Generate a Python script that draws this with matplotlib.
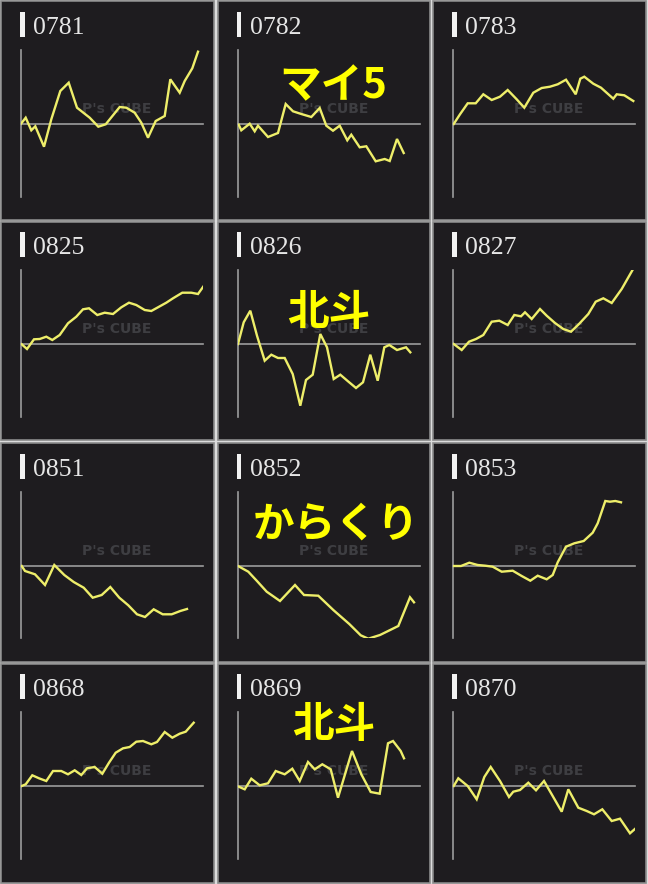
import matplotlib
matplotlib.use("Agg")
import matplotlib.pyplot as plt
from matplotlib.patches import Rectangle

# ---------------- data (x: position along period, y: cumulative diff; 0 = baseline) -------------
codes = ["0781", "0782", "0783", "0825", "0826", "0827",
         "0851", "0852", "0853", "0868", "0869", "0870"]

x_0781 = [0, 4.7, 10.3, 14.3, 23, 30.3, 39.3, 47.7, 56, 68.7, 77.3, 84.7, 98.7, 105.3, 113.7, 120.3, 127, 134.7, 143.7, 149.3, 158.7, 163.7, 171.3, 177]
y_0781 = [0.3, 6.3, -6.3, -2.3, -22.7, 4.7, 33, 41.3, 16.3, 6.3, -2.7, -0.3, 17, 16.3, 11.3, 1.3, -13.7, 3, 8, 44.7, 31.3, 43, 55.7, 72.3]

x_0782 = [0.7, 3.3, 11.7, 16.7, 20, 30, 40, 47.7, 55, 63.3, 73.3, 81.7, 88.3, 95, 101.7, 109.3, 113.3, 121.7, 128.3, 137.7, 146.7, 151.7, 159, 165.7]
y_0782 = [-0.7, -6.3, 0.3, -7.3, -1.7, -13, -9, 20, 12.7, 10, 7, 16, -1.7, -6.7, -1.7, -16.3, -10.7, -23.3, -22.3, -37.3, -35, -37, -15, -29]

x_0783 = [0.7, 7, 14.7, 22.7, 30.3, 38.7, 47, 54.7, 63.7, 71.3, 80.3, 88.7, 97, 104.7, 113, 122.7, 127.3, 131.3, 140.3, 148, 160.3, 163.7, 171.3, 180.3]
y_0783 = [0, 9.7, 20.7, 20.7, 29.7, 24, 27.3, 34, 24.7, 16.3, 31.3, 36, 37.3, 39.7, 44.3, 29.7, 45.3, 47.3, 40.3, 36.3, 25.3, 29.7, 28.7, 23]

x_0825 = [0.7, 6, 13, 18.7, 25.3, 31.3, 38.7, 47, 55.3, 62, 68, 76.3, 83.7, 92, 100.3, 108, 115.3, 123.7, 130.3, 137, 145.3, 152, 161.3, 170.3, 177, 182.7]
y_0825 = [-0.3, -5, 4.7, 5, 7.3, 4, 9, 20.7, 27.3, 34.7, 35.7, 29, 31.3, 30, 36.7, 41.3, 39, 34, 33, 36.7, 41.3, 45.7, 51.3, 51.3, 50, 58]

x_0826 = [0, 5.7, 12.3, 19, 26.7, 33.3, 40, 46.7, 54.7, 62.3, 68, 74.7, 82.3, 89, 95.7, 102.3, 110, 118, 125, 132.3, 139.7, 146.3, 151.3, 159, 168, 172.3]
y_0826 = [0, 21.7, 33.3, 8.3, -16.7, -10.7, -14, -14, -30, -61.7, -36, -30.7, 10, -3.3, -35, -30.7, -37.3, -44, -38.3, -10.7, -36.7, -3.3, -1, -6, -3.3, -8.3]

x_0827 = [0.7, 8.7, 16, 23, 30.3, 38.7, 46.3, 54.7, 61.3, 68, 72, 78.7, 87, 93.7, 102, 110.3, 118, 126, 135.3, 142.7, 150.3, 158.7, 168.7, 179.7]
y_0827 = [0, -6, 2.3, 5, 9, 22.3, 23.3, 19, 29, 27.7, 31.7, 25, 35, 28.3, 21, 15, 12.3, 20, 30, 42.3, 45.7, 41, 55, 74.3]

x_0851 = [0.7, 4, 14, 24, 33.3, 43.3, 52.7, 62.7, 71.7, 80.7, 89.3, 98.3, 107.3, 116, 124, 132.7, 141.7, 150.7, 159.3, 166]
y_0851 = [0, -5, -8.3, -19, 1, -9, -16, -21.7, -31.7, -29, -21, -31.7, -39.3, -48.3, -51, -43.3, -48.3, -48.3, -45, -43]

x_0852 = [0, 10.3, 18.7, 28.7, 42, 57, 66, 80.3, 95.3, 111.3, 122.7, 130.3, 142, 160.3, 172, 176]
y_0852 = [0, -5.7, -14.7, -25.7, -35, -19, -29, -29.7, -44, -58, -69.3, -72.7, -69, -60, -31.3, -36.3]

x_0853 = [0, 8, 16.3, 24.7, 32.3, 39.7, 48.7, 59.7, 68.7, 77.3, 84.7, 93.7, 99.7, 104.7, 113, 121.3, 130.7, 139.7, 144.7, 152.3, 157, 162.3, 168]
y_0853 = [0, 0, 3.3, 1, 0.3, -0.7, -5.7, -4.7, -10, -14.7, -9.7, -13.3, -9, 3.7, 19.3, 22.7, 25, 33.3, 42.7, 65, 64.3, 65, 63.7]

x_0868 = [0.7, 4.7, 11.3, 18, 25.3, 32, 40.3, 47, 53.7, 60.3, 66, 73.7, 81.3, 88, 94.7, 102, 108.7, 115.3, 122, 130.3, 136, 143.7, 151.3, 158.7, 164.7, 172.7]
y_0868 = [0, 1.7, 10.7, 7.7, 5, 15, 15, 11.7, 15.7, 11, 17.7, 19, 12.3, 23.3, 33.3, 37.7, 39, 44.3, 45, 41.7, 44, 54, 48.3, 52.3, 54.3, 63.3]

x_0869 = [0.7, 6.7, 13.3, 21.7, 30, 37.7, 46.7, 54.3, 61.7, 70, 76.7, 84.3, 92.7, 100, 114, 123.3, 132.7, 141.7, 150, 155, 162.7, 166]
y_0869 = [-0.7, -3.3, 7.3, 0.7, 2.7, 15, 11.7, 17.3, 5, 24, 16.7, 21.7, 16.7, -11.7, 35, 11.7, -6, -7.7, 42.7, 45, 35, 27.7]

x_0870 = [0.7, 5.3, 14.7, 23.7, 31.3, 37.7, 47, 56, 60.3, 67, 75.3, 83, 91, 98.7, 108.7, 115.3, 125.3, 133.7, 141, 149.3, 158.7, 167, 177, 182.7]
y_0870 = [0, 7.7, 0, -13.3, 9, 19, 5, -11, -5.7, -4, 3.3, -4.3, 5, -8.3, -25.7, -3.3, -21.7, -25, -28.3, -23.3, -35, -32.7, -47.3, -42.3]

xs = [x_0781, x_0782, x_0783, x_0825, x_0826, x_0827,
      x_0851, x_0852, x_0853, x_0868, x_0869, x_0870]
ys = [y_0781, y_0782, y_0783, y_0825, y_0826, y_0827,
      y_0851, y_0852, y_0853, y_0868, y_0869, y_0870]

overlay_labels = {"0782": "マイ5", "0826": "北斗", "0852": "からくり", "0869": "北斗"}
overlay_pos = {"0782": (333, 86), "0826": (329, 313), "0852": (336, 525), "0869": (334, 725)}

# ---------------- layout (pixels) ----------------
W, H = 648, 884
fig = plt.figure(figsize=(W / 100, H / 100), dpi=100)
fig.patch.set_facecolor("#dcdcdc")

def fx(px):
    return px / W

def fy(py):
    return 1 - py / H

panel_x = [(1, 214), (218, 430), (433, 646)]
panel_y = [(1, 220), (222, 440), (443, 662), (664, 883)]
axis_left = [21, 238, 453]
axis_top = [50, 270, 492, 712]
axis_base = [124, 344, 566, 786]
axis_bot = [197, 417, 638, 859]
AX_W = 182

BG = "#1e1c1f"
LINE = "#eeee6a"
AXC = "#9c9c9c"

for i, code in enumerate(codes):
    r, c = divmod(i, 3)
    x0, x1 = panel_x[c]
    y0, y1 = panel_y[r]
    fig.add_artist(Rectangle((fx(x0), fy(y1)), fx(x1 - x0), (y1 - y0) / H,
                             transform=fig.transFigure, facecolor=BG,
                             edgecolor="#8a8a8a", linewidth=1.2, zorder=-10))

    al = axis_left[c]
    at, ab, base = axis_top[r], axis_bot[r], axis_base[r]
    ax = fig.add_axes([fx(al), fy(ab), fx(AX_W), (ab - at) / H])
    ax.set_zorder(2)
    ax.set_facecolor("none")
    ax.set_xlim(0, AX_W)
    ax.set_ylim(-(ab - base), base - at)
    for s in ["top", "right"]:
        ax.spines[s].set_visible(False)
    ax.spines["left"].set_position(("data", 0))
    ax.spines["bottom"].set_position(("data", 0))
    for s in ["left", "bottom"]:
        ax.spines[s].set_color(AXC)
        ax.spines[s].set_linewidth(1.2)
    ax.set_xticks([])
    ax.set_yticks([])

    # watermark
    ax.text(96, 15, "P's CUBE", color="#3e3e42", fontsize=10, fontweight="bold",
            ha="center", va="center", family="DejaVu Sans", zorder=1)

    ax.plot(xs[i], ys[i], color=LINE, linewidth=1.7, solid_joinstyle="miter", zorder=3)

    # header: white bar + code
    fig.add_artist(Rectangle((fx(al - 1), fy(at - 13)), fx(4.5), 25 / H,
                             transform=fig.transFigure, facecolor="#f2f2f2",
                             edgecolor="none", zorder=3))
    fig.text(fx(al + 12), fy(at - 16), code, color="#e6e6e6", fontsize=18.5,
             family="Liberation Serif", ha="left", va="baseline", zorder=3)

    if code in overlay_labels:
        cx, cy = overlay_pos[code]
        fig.text(fx(cx), fy(cy), overlay_labels[code], color="#ffff00",
                 fontsize=30, fontweight="bold", family=["Noto Sans CJK JP", "DejaVu Sans"],
                 ha="center", va="center", zorder=10)

fig.savefig("out.png", dpi=100, facecolor=fig.get_facecolor())
